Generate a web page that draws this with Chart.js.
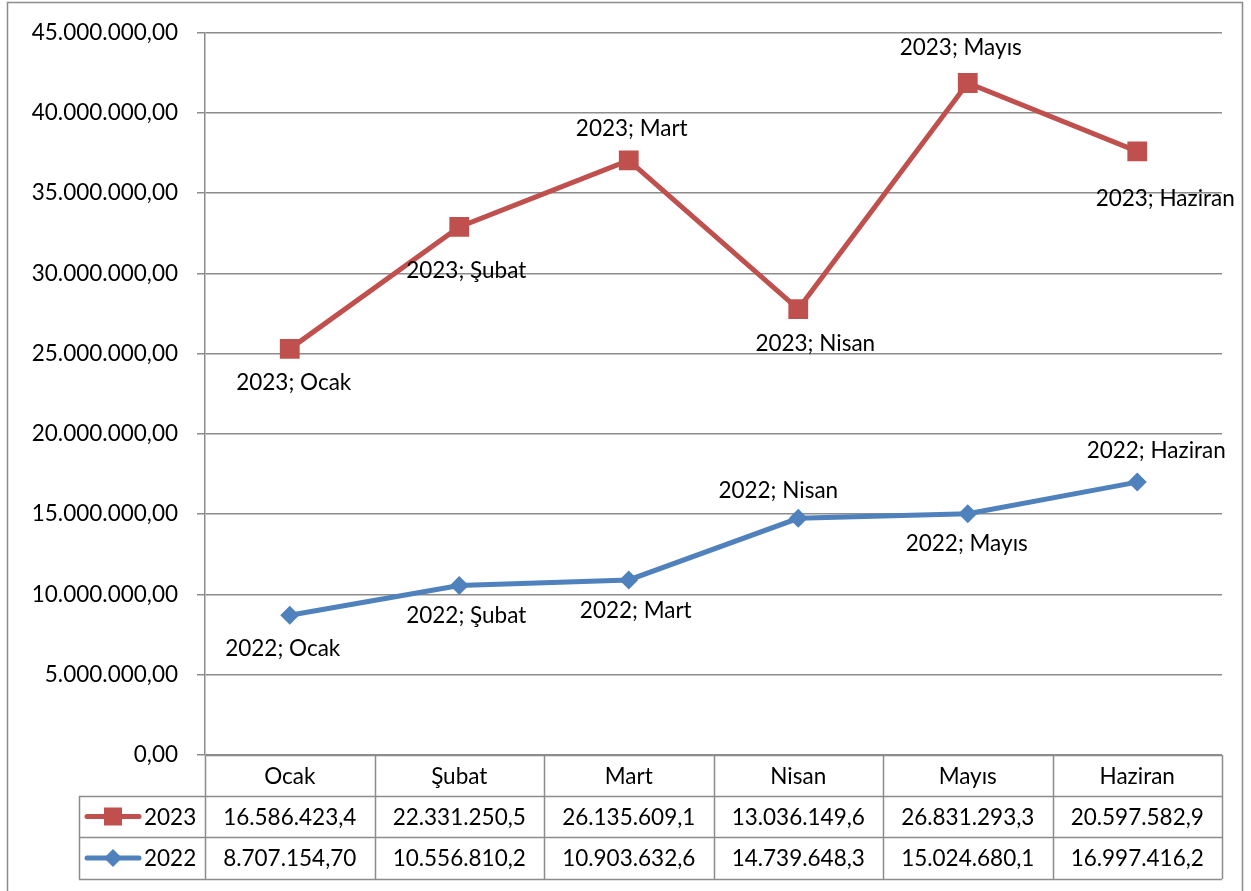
<!DOCTYPE html>
<html>
<head>
<meta charset="utf-8">
<script src="https://cdn.jsdelivr.net/npm/chart.js@4/dist/chart.umd.min.js"></script>
<style>
  body { margin: 0; background: #fff; }
  canvas { display: block; }
</style>
</head>
<body>
<canvas id="chart" width="1251" height="891"></canvas>
<script>
// months and the two series (2023 is stacked on top of 2022)
const months = ['Ocak', 'Şubat', 'Mart', 'Nisan', 'Mayıs', 'Haziran'];
const values2023 = [16586423.4, 22331250.5, 26135609.1, 13036149.6, 26831293.3, 20597582.9];
const values2022 = [8707154.70, 10556810.2, 10903632.6, 14739648.3, 15024680.1, 16997416.2];
const yMax = 45000000;
const yStep = 5000000;

const FONT_SIZE = 22.5;
const FONT = FONT_SIZE + 'px Lato';
const GRID = '#8c8c8c';
const RED = '#c0504d';
const BLUE = '#4f81bd';

function trNumber(v) {
    const parts = v.toFixed(2).split('.');
    return parts[0].replace(/\B(?=(\d{3})+(?!\d))/g, '.') + ',' + parts[1];
}

// label offsets from the point, per dataset (2022 first, then 2023)
const labelOffsets = [
    [[-7, 34], [7, 30], [7, 31], [-20, -28], [-1, 30], [19, -31]],
    [[4, 34], [7, 44], [3, -32], [17, 35], [-7, -35], [28, 47]]
];

const pointLabels = {
    id: 'pointLabels',
    afterDatasetsDraw(chart) {
        const ctx = chart.ctx;
        ctx.save();
        ctx.font = FONT;
        ctx.fillStyle = '#000';
        ctx.textAlign = 'center';
        ctx.textBaseline = 'middle';
        chart.data.datasets.forEach((ds, d) => {
            chart.getDatasetMeta(d).data.forEach((pt, i) => {
                const off = labelOffsets[d][i];
                ctx.fillText(ds.label + '; ' + months[i], pt.x + off[0], pt.y + off[1]);
            });
        });
        ctx.restore();
    }
};

function drawKey(ctx, x, y, color, style) {
    ctx.strokeStyle = color;
    ctx.lineWidth = 5;
    ctx.lineCap = 'round';
    ctx.beginPath();
    ctx.moveTo(x - 26, y);
    ctx.lineTo(x + 26, y);
    ctx.stroke();
    ctx.fillStyle = color;
    ctx.beginPath();
    if (style === 'rect') {
        ctx.rect(x - 9, y - 9, 18, 18);
    } else {
        ctx.moveTo(x, y - 9);
        ctx.lineTo(x + 9, y);
        ctx.lineTo(x, y + 9);
        ctx.lineTo(x - 9, y);
        ctx.closePath();
    }
    ctx.fill();
}

const dataTable = {
    id: 'dataTable',
    afterDraw(chart) {
        const ctx = chart.ctx;
        const area = chart.chartArea;
        const xs = chart.scales.x;
        const colW = area.width / months.length;
        const top = area.bottom;
        const r1 = 796, r2 = 837, r3 = 879;
        const left = 79;
        ctx.save();

        // outer frame
        ctx.strokeStyle = GRID;
        ctx.lineWidth = 1.5;
        ctx.beginPath();
        ctx.moveTo(7.5, 891);
        ctx.lineTo(7.5, 2.5);
        ctx.lineTo(1242.5, 2.5);
        ctx.lineTo(1242.5, 891);
        ctx.stroke();

        // table grid
        ctx.beginPath();
        ctx.moveTo(area.left, top + 0.5); ctx.lineTo(area.right, top + 0.5);
        ctx.moveTo(left, r1 + 0.5); ctx.lineTo(area.right, r1 + 0.5);
        ctx.moveTo(left, r2 + 0.5); ctx.lineTo(area.right, r2 + 0.5);
        ctx.moveTo(left, r3 + 0.5); ctx.lineTo(area.right, r3 + 0.5);
        ctx.moveTo(left + 0.5, r1); ctx.lineTo(left + 0.5, r3);
        for (let i = 0; i <= months.length; i++) {
            const x = Math.round(area.left + colW * i) + 0.5;
            ctx.moveTo(x, top); ctx.lineTo(x, r3);
        }
        ctx.stroke();

        // texts
        ctx.font = FONT;
        ctx.fillStyle = '#000';
        ctx.textAlign = 'center';
        ctx.textBaseline = 'middle';
        months.forEach((m, i) => {
            const cx = xs.getPixelForValue(i);
            ctx.fillText(m, cx, (top + r1) / 2 + 1);
            ctx.fillText(trNumber(values2023[i]).slice(0, 12), cx, (r1 + r2) / 2 + 1);
            ctx.fillText(trNumber(values2022[i]).slice(0, 12), cx, (r2 + r3) / 2 + 1);
        });
        ctx.textAlign = 'left';
        ctx.fillText('2023', 144, (r1 + r2) / 2 + 1);
        ctx.fillText('2022', 144, (r2 + r3) / 2 + 1);

        drawKey(ctx, 113, (r1 + r2) / 2, RED, 'rect');
        drawKey(ctx, 113, (r2 + r3) / 2, BLUE, 'diamond');
        ctx.restore();
    }
};

new Chart(document.getElementById('chart'), {
    type: 'line',
    data: {
        labels: months,
        datasets: [{
            label: '2022',
            data: values2022,
            borderColor: BLUE,
            backgroundColor: BLUE,
            borderWidth: 5,
            pointStyle: 'rectRot',
            pointRadius: 9.5,
            pointBorderWidth: 0,
            tension: 0
        }, {
            label: '2023',
            data: values2023,
            borderColor: RED,
            backgroundColor: RED,
            borderWidth: 5,
            pointStyle: 'rect',
            pointRadius: 14,
            pointBorderWidth: 0,
            tension: 0
        }]
    },
    options: {
        responsive: false,
        animation: false,
        devicePixelRatio: 1,
        layout: { padding: { left: 0, top: 30, right: 29, bottom: 136 } },
        plugins: {
            legend: { display: false },
            tooltip: { enabled: false }
        },
        scales: {
            x: {
                display: false,
                offset: true
            },
            y: {
                stacked: true,
                min: 0,
                max: yMax,
                afterFit(scale) { scale.width = 205; },
                ticks: {
                    stepSize: yStep,
                    color: '#000',
                    font: { family: 'Lato', size: FONT_SIZE },
                    padding: 19,
                    callback: v => trNumber(v)
                },
                grid: { color: GRID, lineWidth: 1.5, tickLength: 8 },
                border: { color: GRID, width: 1.5 }
            }
        }
    },
    plugins: [pointLabels, dataTable]
});
</script>
</body>
</html>
